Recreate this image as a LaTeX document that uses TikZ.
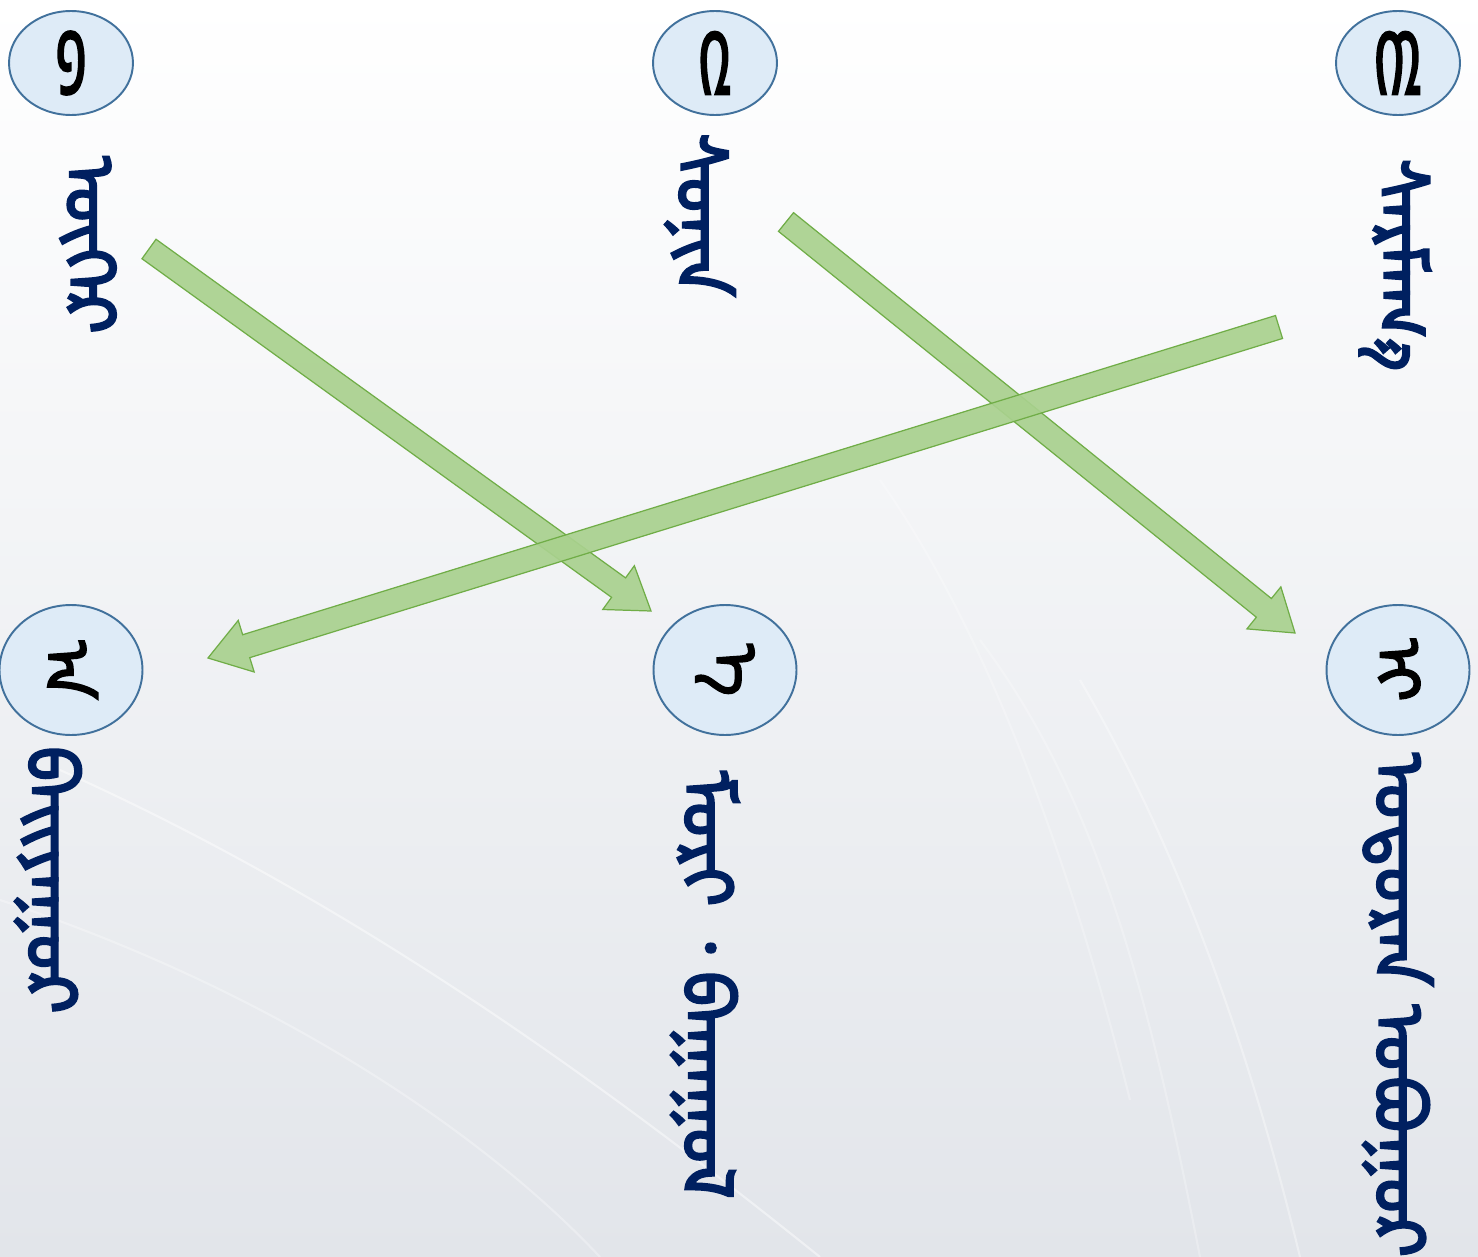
\documentclass[tikz,border=0pt]{standalone}
\usepackage{fontspec}
\newfontfamily\mong[Script=Mongolian,FakeBold=3.5]{Noto Sans Mongolian}
\newfontfamily\mongnum[Script=Mongolian,FakeBold=3.5]{Noto Sans Mongolian}
\usetikzlibrary{calc,shapes.geometric}
\definecolor{navy}{HTML}{002060}
\definecolor{circf}{HTML}{DEEBF7}
\definecolor{circb}{HTML}{41719C}
\definecolor{arrf}{HTML}{A9D18E}
\definecolor{arrb}{HTML}{70AD47}
\definecolor{bgbot}{RGB}{226,229,234}
\tikzset{
  numtop/.style={ellipse, draw=circb, fill=circf, line width=1.1pt, minimum width=2.48cm, minimum height=2.08cm, inner sep=0pt, font=\mongnum\fontsize{36}{40}\selectfont, text=black},
  numbot/.style={ellipse, draw=circb, fill=circf, line width=1.1pt, minimum width=2.86cm, minimum height=2.6cm, inner sep=0pt},
  letter/.style={rotate=-90, inner sep=0pt, font=\mongnum\fontsize{36}{40}\selectfont, text=black},
  word/.style={rotate=-90, inner sep=0pt, font=\mong\fontsize{40}{46}\selectfont, text=navy},
  arrowbody/.style={fill=arrf, fill opacity=0.92, draw=arrb, line width=0.7pt, line join=miter},
  streak/.style={white, opacity=0.45, line width=1.2pt}
}
\newcommand\tallnum[1]{\scalebox{0.85}[1.35]{#1}}
\newcommand\blockarr[3]{%
  \coordinate (#3n) at ($(#2)!0.8cm!(#1)$);
  \path[arrowbody] ($(#1)!0.24cm!90:(#2)$) -- ($(#3n)!0.24cm!90:(#2)$) -- ($(#3n)!0.54cm!90:(#2)$) -- (#2)
    -- ($(#3n)!0.54cm!-90:(#2)$) -- ($(#3n)!0.24cm!-90:(#2)$) -- ($(#1)!0.24cm!-90:(#2)$) -- cycle;}
\begin{document}
\begin{tikzpicture}[x=0.02cm,y=-0.02cm]
\useasboundingbox (0,0) rectangle (1478,1257);
% background
\shade[top color=white, bottom color=bgbot] (0,0) rectangle (1478,1257);
\draw[streak] (60,770) .. controls (350,900) and (600,1080) .. (820,1257);
\draw[streak, opacity=0.3] (0,900) .. controls (300,1000) and (500,1150) .. (600,1257);
\draw[streak, opacity=0.35] (1080,680) .. controls (1180,850) and (1250,1050) .. (1300,1257);
\draw[streak, opacity=0.25] (980,640) .. controls (1100,800) and (1150,1000) .. (1200,1257);
\draw[streak, opacity=0.25] (880,480) .. controls (1000,650) and (1080,900) .. (1130,1100);

% numbered circles
\node[numtop] (c1) at (71,63) {\tallnum{᠑}};
\node[numtop] (c2) at (715,63) {\tallnum{᠒}};
\node[numtop] (c3) at (1398,63) {\tallnum{᠓}};
\node[numbot] (d1) at (71,670) {};
\node[numbot] (d2) at (725,670) {};
\node[numbot] (d3) at (1398,670) {};
\node[letter] (l1) at (d1) {ᠠ};
\node[letter] (l2) at (d2) {ᠡ};
\node[letter] (l3) at (d3) {ᠢ};

% words
\node[word] (w1) at (88,245) {ᠦᠬᠡᠷ};
\node[word] (w2) at (700,215) {ᠰᠣᠨᠢᠨ};
\node[word] (w3) at (1395,265) {ᠰᠠᠷᠮᠠᠭ᠎ᠠ};
\node[word] (v1) at (48,880) {ᠪᠠᠢᠶᠠᠭᠤᠷ};
\node[word] (v2) at (705,985) {ᠮᠣᠷᠢ ᠂ ᠪᠠᠭᠠᠭᠤᠯ};
\node[word] (v3) at (1398,1005) {ᠣᠳᠣᠷᠠᠨ ᠣᠪᠣᠭᠣᠷ};

% arrows
\coordinate (a1s) at (149,249);
\coordinate (a1e) at (651,611);
\coordinate (a2s) at (786,222);
\coordinate (a2e) at (1295,633);
\coordinate (a3s) at (1279,327);
\coordinate (a3e) at (208,658);
\blockarr{a1s}{a1e}{aa}
\blockarr{a2s}{a2e}{ab}
\blockarr{a3s}{a3e}{ac}
\end{tikzpicture}
\end{document}
